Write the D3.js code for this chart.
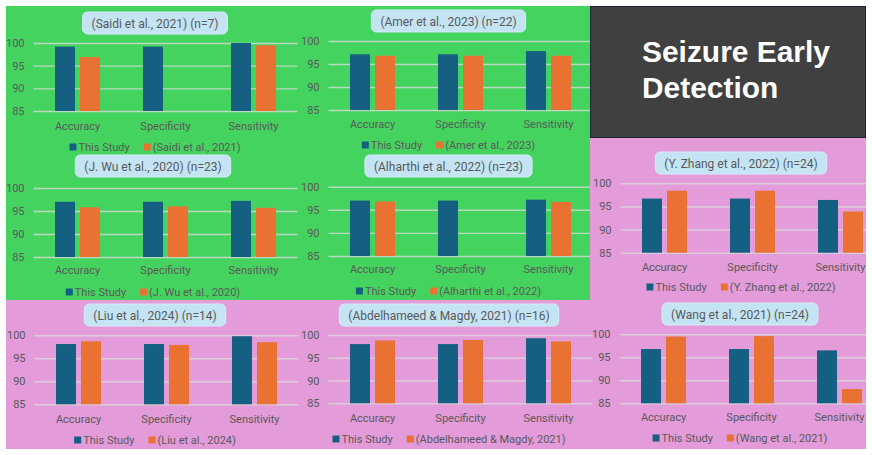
<!DOCTYPE html>
<meta charset="utf-8">
<script src="https://d3js.org/d3.v7.min.js"></script>
<style>
  body { margin: 0; background: #ffffff; }
  svg text { font-family: Roboto, "Liberation Sans", sans-serif; }
</style>
<body>
<div id="my_dataviz"></div>
<script>
// data
var categories = ["Accuracy", "Specificity", "Sensitivity"];
var seriesNames = ["This Study", "Comparison"];
var studies = ["(Saidi et al., 2021)", "(Amer et al., 2023)", "(J. Wu et al., 2020)",
  "(Alharthi et al., 2022)", "(Y. Zhang et al., 2022)", "(Liu et al., 2024)",
  "(Abdelhameed & Magdy, 2021)", "(Wang et al., 2021)"];
var sampleSizes = [7, 22, 23, 23, 24, 14, 16, 24];
var thisStudy = [
  [99.2, 99.2, 100.0],
  [97.1, 97.1, 97.8],
  [97.0, 97.0, 97.2],
  [97.0, 97.0, 97.2],
  [96.7, 96.7, 96.4],
  [98.1, 98.1, 99.8],
  [98.0, 98.0, 99.3],
  [96.8, 96.8, 96.5]
];
var comparison = [
  [96.9, null, 99.5],
  [96.8, 96.8, 96.8],
  [95.8, 96.0, 95.7],
  [96.8, null, 96.7],
  [98.4, 98.4, 93.9],
  [98.7, 97.9, 98.5],
  [98.8, 98.9, 98.6],
  [99.5, 99.6, 88.1]
];
var yTicks = [85, 90, 95, 100];
var mainTitle = ["Seizure Early", "Detection"];

// where each small chart sits on the page
var layout = [
  {left: 33.5, top: 43, bottom: 111, tx: 155, ty: 12, catY: 130, legY: 147, clip: [6, 6, 584, 294]},
  {left: 328.5, top: 41, bottom: 110, tx: 448.5, ty: 10, catY: 128, legY: 145, clip: [6, 6, 584, 294]},
  {left: 33.5, top: 188, bottom: 257, tx: 153, ty: 155, catY: 274, legY: 292, clip: [6, 6, 584, 294]},
  {left: 328.5, top: 186.7, bottom: 256, tx: 448.5, ty: 155, catY: 273, legY: 291, clip: [6, 6, 584, 294]},
  {left: 620.5, top: 183.3, bottom: 252.7, tx: 741, ty: 152, catY: 271, legY: 287, clip: [590, 138, 276, 311]},
  {left: 34.5, top: 335.3, bottom: 404.3, tx: 155, ty: 304, catY: 423, legY: 440, clip: [6, 300, 860, 149]},
  {left: 328.5, top: 335, bottom: 403.3, tx: 449, ty: 304, catY: 422, legY: 439, clip: [6, 300, 860, 149]},
  {left: 619.5, top: 334.3, bottom: 403.3, tx: 740, ty: 303, catY: 421, legY: 438, clip: [590, 138, 276, 311]}
];

var width = 872, height = 455;
var colors = ["#156082", "#e97132"];
var green = "#45d35f", pink = "#e39bd9";
var textColor = "#595959";

var svg = d3.select("#my_dataviz")
  .append("svg")
  .attr("width", width)
  .attr("height", height);

// backgrounds
svg.append("rect").attr("x", 6).attr("y", 6).attr("width", 584).attr("height", 294).attr("fill", green);
svg.append("rect").attr("x", 590).attr("y", 138).attr("width", 276).attr("height", 162).attr("fill", pink);
svg.append("rect").attr("x", 6).attr("y", 300).attr("width", 860).attr("height", 149).attr("fill", pink);

// title box
svg.append("rect").attr("x", 590.5).attr("y", 6.5).attr("width", 275).attr("height", 131)
  .attr("fill", "#404040").attr("stroke", "#1c2436").attr("stroke-width", 1);
var titleText = svg.selectAll(".title")
  .data(mainTitle)
  .join("text")
  .attr("class", "title")
  .attr("x", 642).attr("y", function(d, i) { return 62 + i * 35.5; })
  .style("font-family", "'Liberation Sans', Arial, sans-serif")
  .style("font-weight", "bold")
  .style("font-size", "27px")
  .attr("fill", "#ffffff")
  .text(function(d) { return d; });
// fit first line to the width seen in the picture
var w0 = titleText.node().getComputedTextLength();
titleText.style("font-size", Math.min(30, 27 * 188 / w0).toFixed(2) + "px");

var defs = svg.append("defs");

layout.forEach(function(L, p) {
  var cid = "clip" + p;
  defs.append("clipPath").attr("id", cid)
    .append("rect").attr("x", L.clip[0]).attr("y", L.clip[1]).attr("width", L.clip[2]).attr("height", L.clip[3]);
  var g = svg.append("g").attr("clip-path", "url(#" + cid + ")");

  var x = d3.scaleBand().domain(categories).range([L.left, L.left + 264]);
  var xs = d3.scaleBand().domain(seriesNames).range([x.bandwidth() / 2 - 22.5, x.bandwidth() / 2 + 22.5]).paddingInner(0.2);
  var y = d3.scaleLinear().domain([85, 100]).range([L.bottom, L.top]);

  // gridlines + tick labels
  var ya = g.append("g")
    .attr("transform", "translate(" + L.left + ",0)")
    .call(d3.axisLeft(y).tickValues(yTicks).tickSize(-264).tickPadding(9));
  ya.select(".domain").remove();
  ya.selectAll("line").attr("stroke", "#d9d9d9").attr("stroke-opacity", 0.8).attr("stroke-width", 1.4);
  ya.selectAll("text").attr("fill", textColor).style("font-size", "11px").style("font-family", "Roboto, sans-serif");

  // bars
  var rows = categories.map(function(c, i) {
    return [{s: seriesNames[0], c: c, v: thisStudy[p][i]}, {s: seriesNames[1], c: c, v: comparison[p][i]}];
  });
  g.append("g").selectAll("g")
    .data(rows)
    .join("g")
    .attr("transform", function(d) { return "translate(" + x(d[0].c) + ",0)"; })
    .selectAll("rect")
    .data(function(d) { return d.filter(function(e) { return e.v != null; }); })
    .join("rect")
    .attr("x", function(d) { return xs(d.s); })
    .attr("y", function(d) { return y(d.v); })
    .attr("width", xs.bandwidth())
    .attr("height", function(d) { return y(85) - y(d.v); })
    .attr("fill", function(d) { return d.s === seriesNames[0] ? colors[0] : colors[1]; });

  // category labels
  var xa = g.append("g")
    .attr("transform", "translate(0," + L.catY + ")")
    .call(d3.axisBottom(x).tickSize(0));
  xa.select(".domain").remove();
  xa.selectAll("text").attr("y", 0).attr("dy", null).attr("fill", textColor)
    .style("font-size", "11px").style("font-family", "Roboto, sans-serif");

  // title pill
  var tg = g.append("g");
  var tt = tg.append("text")
    .attr("x", L.tx).attr("y", L.ty + 15.5)
    .attr("text-anchor", "middle")
    .attr("fill", textColor)
    .style("font-size", "12px")
    .text(studies[p] + " (n=" + sampleSizes[p] + ")");
  var tw = tt.node().getComputedTextLength();
  tg.insert("rect", "text")
    .attr("x", L.tx - tw / 2 - 9).attr("y", L.ty)
    .attr("width", tw + 18).attr("height", 22)
    .attr("rx", 5)
    .attr("fill", "#c4e4f4").attr("stroke", "#d6edf8");

  // legend
  var lg = g.append("g");
  var labels = ["This Study", studies[p]];
  var xpos = 0;
  labels.forEach(function(lab, i) {
    lg.append("rect").attr("x", xpos).attr("y", -3.5).attr("width", 7).attr("height", 7).attr("fill", colors[i]);
    var t = lg.append("text").attr("x", xpos + 9).attr("y", 4)
      .attr("fill", textColor).style("font-size", "11px").text(lab);
    xpos += 9 + t.node().getComputedTextLength() + 14;
  });
  var lw = xpos - 14;
  lg.attr("transform", "translate(" + (L.tx - lw / 2) + "," + L.legY + ")");
});
</script>
</body>
